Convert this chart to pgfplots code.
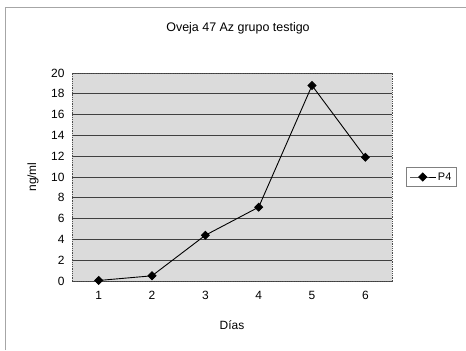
\documentclass[border=0pt]{standalone}
\usepackage{pgfplots}
\pgfplotsset{compat=1.18}
\usepackage{fontspec}
\setmainfont{Liberation Sans}
\begin{document}
\begin{tikzpicture}[x=1bp,y=1bp]
\path[use as bounding box] (0,0) rectangle (466,350);
\draw[gray!70, line width=1bp] (5,0) -- (5,342) -- (466,342);
\node[font=\fontsize{12.5}{14}\selectfont] at (238,322) {Oveja 47 Az grupo testigo};
\begin{axis}[
  at={(72bp,69bp)}, anchor=south west,
  scale only axis, width=320bp, height=208bp,
  xmin=0.5, xmax=6.5, ymin=0, ymax=20,
  xtick={1,2,3,4,5,6}, ytick={0,2,...,20},
  tick style={draw=none},
  axis line style={densely dotted, black!70, line width=0.8pt},
  axis background/.style={fill=black!14},
  ymajorgrids, grid style={black!75, line width=0.8pt},
  tick label style={font=\fontsize{12}{14}\selectfont},
  xticklabel style={yshift=-7bp},
  yticklabel style={xshift=-4bp},
  /pgf/number format/assume math mode=true,
  xlabel={Días}, ylabel={ng/ml},
  label style={font=\fontsize{12}{14}\selectfont},
  xlabel style={at={(axis description cs:0.5,-0.211)}, anchor=center},
  ylabel style={at={(axis description cs:-0.122,0.5)}, anchor=center},
  legend style={at={(1.044,0.5)}, anchor=west, draw=gray, fill=white,
    font=\fontsize{11}{13}\selectfont, inner sep=3bp, line width=1pt},
  legend image code/.code={
    \draw[mark repeat=2,mark phase=2,#1] plot coordinates {(0cm,0cm) (0.45cm,0cm) (0.9cm,0cm)};},
  legend cell align=left,
]
\addplot[black, line width=0.9pt, mark=square*, mark options={rotate=45}, mark size=2.8pt] coordinates {
(1,0.05) (2,0.5) (3,4.4) (4,7.1) (5,18.8) (6,11.9)};
\addlegendentry{P4\hspace{10bp}}
\end{axis}
\end{tikzpicture}
\end{document}
